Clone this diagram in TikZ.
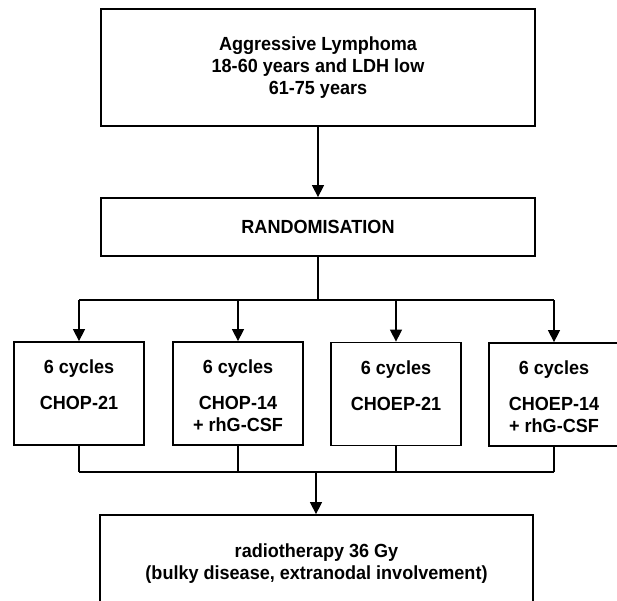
\documentclass[tikz,border=0pt]{standalone}
\usepackage{fontspec}
\usetikzlibrary{arrows.meta}
\newfontfamily\dfont{Liberation Sans}[BoldFeatures={FakeStretch=0.95}]
\newcommand{\cycbox}[1]{\parbox[c][103pt][t]{128pt}{\centering\vspace*{18pt}6 cycles\\[14pt]#1}}
\begin{document}
\begin{tikzpicture}[x=1pt,y=-1pt,
  box/.style={draw, line width=1.8pt, inner sep=0pt, align=center,
    font=\dfont\bfseries\fontsize{19}{22}\selectfont},
  cycle/.style={box, minimum width=130pt, minimum height=103pt},
  conn/.style={line width=1.4pt},
  arr/.style={conn, -{Triangle[length=12pt,width=12pt]}}]
\useasboundingbox (0,0) rectangle (617,600);
\fill[white] (0,0) rectangle (617,600);
\clip (0,0) rectangle (617,600);

\node[box, minimum width=434pt, minimum height=117pt] (top) at (318,67.5)
  {Aggressive Lymphoma\\18-60 years and LDH low\\61-75 years};
\node[box, minimum width=434pt, minimum height=58pt] (rand) at (318,227)
  {RANDOMISATION};

\node[cycle] (c1) at (79,393.5) {\cycbox{CHOP-21}};
\node[cycle] (c2) at (238,393.5) {\cycbox{CHOP-14\\+ rhG-CSF}};
\node[cycle] (c3) at (396,394) {\cycbox{CHOEP-21}};
\node[cycle] (c4) at (554,394.5) {\cycbox{CHOEP-14\\+ rhG-CSF}};

\node[box, minimum width=433pt, minimum height=98pt] (rt) at (316.5,564)
  {radiotherapy 36 Gy\\(bulky disease, extranodal involvement)};

\coordinate (split) at (318,300);
\coordinate (join) at (316,472);

\draw[arr] (top.south) -- (rand.north);
\draw[conn] (rand.south) -- (split);
\draw[conn] (c1.north |- split) -- (c4.north |- split);
\foreach \c in {c1,c2,c3,c4} {
  \draw[arr] (\c.north |- split) -- (\c.north);
  \draw[conn] (\c.south) -- (\c.south |- join);
}
\draw[conn] (c1.south |- join) -- (c4.south |- join);
\draw[arr] (join) -- (join |- rt.north);
\end{tikzpicture}
\end{document}
